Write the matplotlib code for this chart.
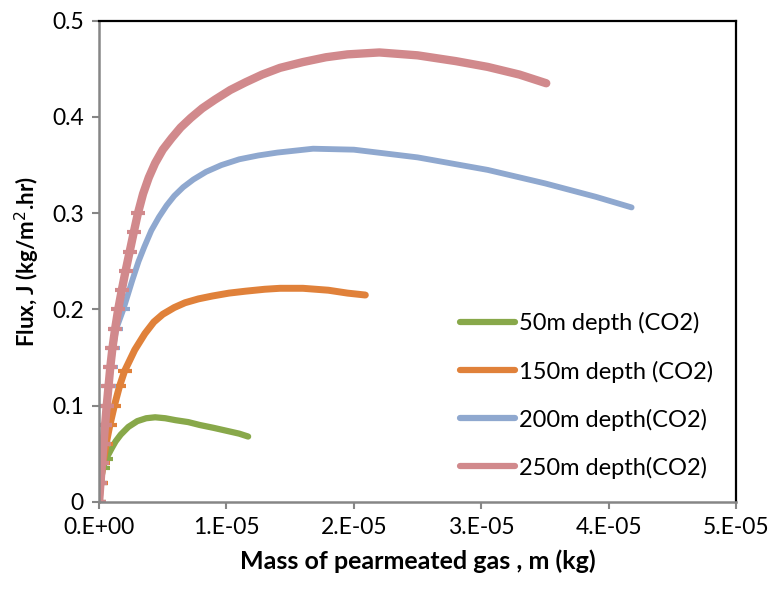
import numpy as np
import matplotlib
matplotlib.use("Agg")
import matplotlib.pyplot as plt
from matplotlib.ticker import FuncFormatter

plt.rcParams['font.family'] = ['Lato', 'DejaVu Sans']

# ---------------- Daten (x in 1e-5 kg, y in kg/m2.hr) ------------------------
labels = ["50m depth (CO2)", "150m depth (CO2)", "200m depth(CO2)", "250m depth(CO2)"]

x_50 = [0, 0.012, 0.03, 0.055, 0.08, 0.10, 0.13, 0.17, 0.23, 0.30, 0.37, 0.44,
        0.52, 0.60, 0.70, 0.79, 0.90, 1.00, 1.10, 1.17]
y_50 = [0, 0.02, 0.035, 0.045, 0.051, 0.056, 0.063, 0.070, 0.078, 0.084, 0.087, 0.088,
        0.087, 0.085, 0.083, 0.080, 0.077, 0.074, 0.071, 0.068]

x_150 = [0, 0.012, 0.03, 0.055, 0.085, 0.12, 0.16, 0.20, 0.28, 0.36, 0.43, 0.50,
         0.59, 0.675, 0.78, 0.89, 1.02, 1.15, 1.30, 1.42, 1.60, 1.80, 1.95, 2.09]
y_150 = [0, 0.02, 0.04, 0.06, 0.08, 0.10, 0.12, 0.136, 0.158, 0.175, 0.187, 0.195,
         0.202, 0.207, 0.211, 0.214, 0.217, 0.219, 0.221, 0.222, 0.222, 0.220, 0.217, 0.215]

x_200 = [0, 0.011, 0.023, 0.035, 0.048, 0.062, 0.077, 0.093, 0.11, 0.135, 0.19, 0.225,
         0.26, 0.31, 0.355, 0.41, 0.47, 0.53, 0.59, 0.66, 0.74, 0.84, 0.96, 1.10,
         1.25, 1.40, 1.68, 2.00, 2.50, 3.05, 3.50, 3.90, 4.18]
y_200 = [0, 0.02, 0.04, 0.06, 0.08, 0.10, 0.12, 0.14, 0.16, 0.18, 0.20, 0.215,
         0.23, 0.25, 0.265, 0.282, 0.296, 0.308, 0.318, 0.327, 0.335, 0.343, 0.350, 0.356,
         0.360, 0.363, 0.367, 0.366, 0.358, 0.345, 0.331, 0.317, 0.306]

x_250 = [0, 0.011, 0.023, 0.035, 0.047, 0.060, 0.074, 0.088, 0.105, 0.126, 0.150, 0.178,
         0.208, 0.240, 0.272, 0.305, 0.345, 0.39, 0.44, 0.50, 0.57, 0.64, 0.72, 0.81,
         0.91, 1.03, 1.15, 1.28, 1.42, 1.60, 1.78, 1.95, 2.20, 2.50, 2.80, 3.05,
         3.30, 3.51]
y_250 = [0, 0.02, 0.04, 0.06, 0.08, 0.10, 0.12, 0.14, 0.16, 0.18, 0.20, 0.22,
         0.24, 0.26, 0.28, 0.30, 0.32, 0.337, 0.352, 0.366, 0.378, 0.389, 0.399, 0.409,
         0.418, 0.428, 0.436, 0.444, 0.451, 0.457, 0.462, 0.465, 0.467, 0.464, 0.458, 0.452,
         0.444, 0.435]

farben = ["#88A84A", "#E0813A", "#8FA8CF", "#D1898C"]
breiten = [4.5, 5.0, 4.2, 6.0]
# Anzahl Punkte im steilen Anfangsbereich, wo die Marker sichtbar sind
steil = [4, 8, 11, 16]

# ---------------- Plot -------------------------------------------------------
fig = plt.figure(figsize=(7.74, 5.91), dpi=100)
ax = fig.add_axes([0.128, 0.1506, 0.823, 0.8144])

serien = [(x_50, y_50), (x_150, y_150), (x_200, y_200), (x_250, y_250)]
for (xs, ys), lab, c, lw, n in zip(serien, labels, farben, breiten, steil):
    ax.plot(np.array(xs) * 1e-5, ys, color=c, lw=lw, label=lab,
            marker="_", markersize=10, markeredgewidth=3,
            markevery=slice(0, n), solid_capstyle="round",
            solid_joinstyle="round")

ax.set_xlim(0, 5e-5)
ax.set_ylim(0, 0.5)
ax.set_xticks(np.arange(0, 5.01e-5, 1e-5))
ax.set_yticks(np.arange(0, 0.51, 0.1))
ax.xaxis.set_major_formatter(FuncFormatter(lambda v, p: f"{round(v * 1e5)}.E{'+00' if v == 0 else '-05'}"))
ax.yaxis.set_major_formatter(FuncFormatter(lambda v, p: "0" if v == 0 else f"{v:.1f}"))
ax.tick_params(axis="both", labelsize=16.5, direction="out", length=5,
               width=1.5, color="#868686", pad=6)

for s in ["left", "bottom"]:
    ax.spines[s].set_color("#868686")
    ax.spines[s].set_linewidth(1.8)
for s in ["top", "right"]:
    ax.spines[s].set_color("black")
    ax.spines[s].set_linewidth(1.6)

ax.set_xlabel("Mass of pearmeated gas , m (kg)", fontsize=18, fontweight="bold", labelpad=8)
ax.set_ylabel("Flux, J (kg/m$^{2}$.hr)", fontsize=16, fontweight="bold", labelpad=7)

leg = ax.legend(loc="upper left", bbox_to_anchor=(0.567, 0.394), frameon=False,
                fontsize=17, handlelength=2.3, handletextpad=0.2,
                labelspacing=1.1, borderpad=0, borderaxespad=0)
for h in leg.get_lines():
    h.set_marker("")
    h.set_linewidth(4.5)

fig.savefig("out.png", dpi=100)
